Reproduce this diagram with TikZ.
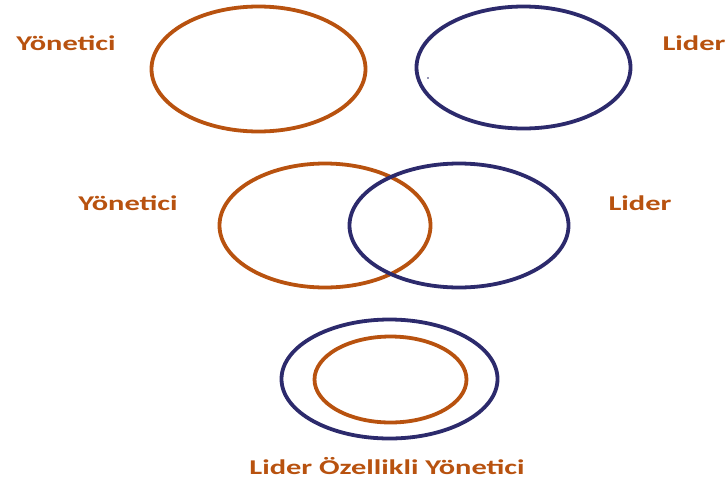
\documentclass[tikz,border=0pt]{standalone}
\usepackage{fontspec}
\setmainfont{Carlito}
\newfontfamily\lblfont[FakeStretch=1.45]{Carlito}
\definecolor{rust}{HTML}{B8520F}
\definecolor{navy}{HTML}{2C2A6C}

\begin{document}
\begin{tikzpicture}[x=1pt,y=-1pt,
                    font=\lblfont\bfseries\fontsize{21}{24}\selectfont,
                    ring/.style={line width=3.8pt},
                    lbl/.style={text=rust,inner sep=0pt}]
  \useasboundingbox (0,0) rectangle (727,482);
  % top row: separate
  \draw[ring,rust] (258.5,69) ellipse [x radius=107,y radius=62.5];
  \draw[ring,navy] (523.5,67.5) ellipse [x radius=107,y radius=61];
  \fill[navy] (428,78) circle (0.9);
  \node[lbl] (mgrA) at (66,43) {Yönetici};
  \node[lbl] (ldrA) at (694,43) {Lider};

  % middle row: overlapping
  \draw[ring,rust] (325,225.5) ellipse [x radius=105.5,y radius=62];
  \draw[ring,navy] (459,225.5) ellipse [x radius=109.5,y radius=62];
  \node[lbl] (mgrB) at (128,203) {Yönetici};
  \node[lbl] (ldrB) at (640,203) {Lider};

  % bottom: nested
  \draw[ring,navy] (389.5,379) ellipse [x radius=108,y radius=59.5];
  \draw[ring,rust] (390.5,379.5) ellipse [x radius=76,y radius=43];
  \node[lbl] (both) at (387,466) {Lider Özellikli Yönetici};
\end{tikzpicture}
\end{document}
